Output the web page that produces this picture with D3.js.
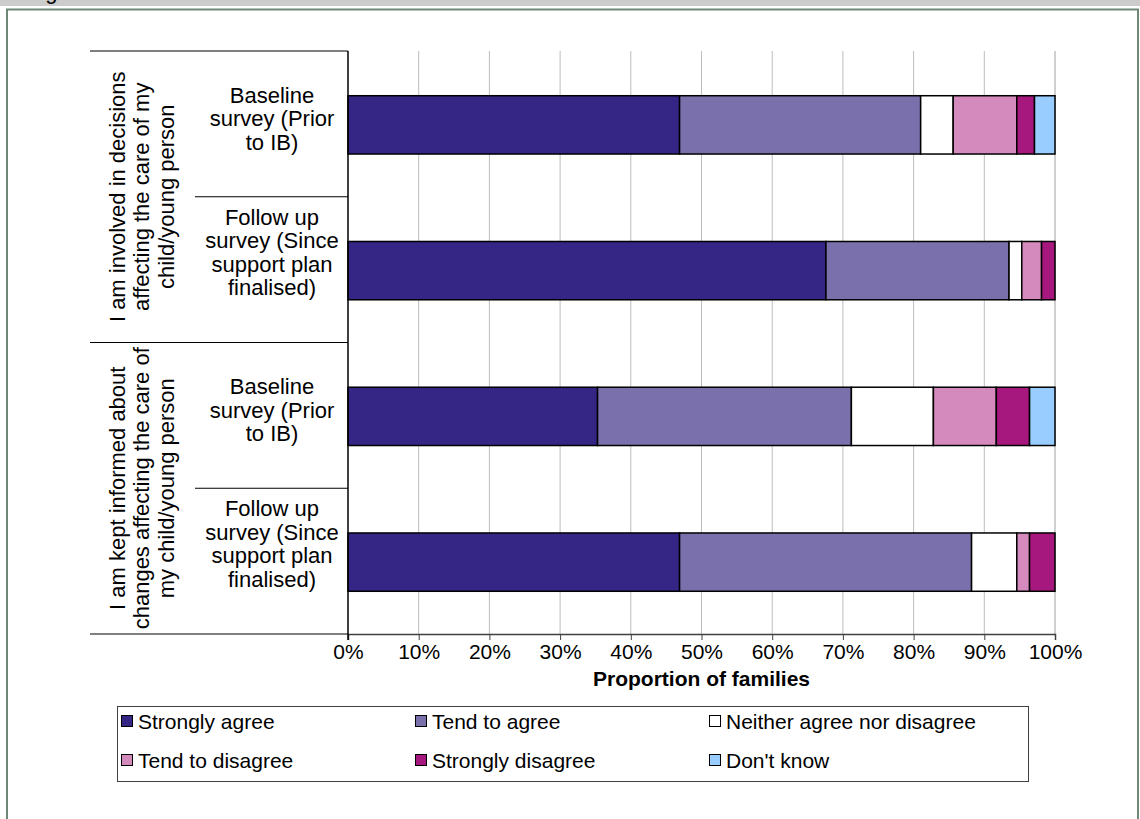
<!DOCTYPE html>
<html>
<head>
<meta charset="utf-8">
<script src="https://cdn.jsdelivr.net/npm/d3@7"></script>
<style>
  html, body { margin: 0; padding: 0; background: #ffffff; }
  svg { display: block; font-family: "Liberation Sans", Arial, sans-serif; }
</style>
</head>
<body>
<svg id="chart" width="1140" height="819"></svg>
<script>
// Response categories (stack order, left to right)
const responses = ["Strongly agree", "Tend to agree", "Neither agree nor disagree",
                   "Tend to disagree", "Strongly disagree", "Don't know"];
const responseColors = ["#352585", "#7a70ab", "#ffffff", "#d48abd", "#a6187e", "#99ccff"];

// Statements (outer category) and survey waves (inner category)
const statementLines = [
  ["I am involved in decisions", "affecting the care of my", "child/young person"],
  ["I am kept informed about", "changes affecting the care of", "my child/young person"]
];
const surveyLines = [
  ["Baseline", "survey (Prior", "to IB)"],
  ["Follow up", "survey (Since", "support plan", "finalised)"]
];

// Percentages per row: [involved baseline, involved follow-up, informed baseline, informed follow-up]
const stronglyAgree    = [46.9, 67.6, 35.3, 46.9];
const tendToAgree      = [34.1, 25.9, 35.9, 41.3];
const neither          = [4.6, 1.8, 11.6, 6.4];
const tendToDisagree   = [9.0, 2.8, 8.9, 1.8];
const stronglyDisagree = [2.5, 1.9, 4.7, 3.6];
const dontKnow         = [2.9, 0.0, 3.6, 0.0];

const xTicks = [0, 10, 20, 30, 40, 50, 60, 70, 80, 90, 100];
const xTitle = "Proportion of families";

const seriesValues = [stronglyAgree, tendToAgree, neither, tendToDisagree, stronglyDisagree, dontKnow];
const rowIds = ["r0", "r1", "r2", "r3"];
const rows = rowIds.map((id, i) => {
  const o = { id };
  responses.forEach((r, k) => { o[r] = seriesValues[k][i]; });
  return o;
});

const FS = 22;
const svg = d3.select("#chart");

// Page strip, caption remnant and frame
svg.append("rect").attr("x", 0).attr("y", 0).attr("width", 1140).attr("height", 6).attr("fill", "#cccccc");
svg.append("rect").attr("x", 7).attr("y", 9.5).attr("width", 1131).attr("height", 830)
  .attr("fill", "#ffffff").attr("stroke", "#6f8777").attr("stroke-width", 2);
svg.append("text").attr("x", 27).attr("y", -1).attr("font-size", FS).attr("fill", "#000").text("Figure");

const plot = { left: 348, right: 1055, top: 51, bottom: 634 };

const x = d3.scaleLinear().domain([0, 100]).range([plot.left, plot.right]);
const y = d3.scaleBand().domain(rowIds).range([plot.top, plot.bottom]).padding(0);
const barH = y.bandwidth() * 0.4;

// Vertical gridlines
svg.append("g").selectAll("line").data(xTicks.filter(t => t > 0)).join("line")
  .attr("x1", d => x(d)).attr("x2", d => x(d))
  .attr("y1", plot.top).attr("y2", plot.bottom)
  .attr("stroke", d => d === 100 ? "#a0a0a0" : "#bdbdbd").attr("stroke-width", 1);

// Stacked bars
const stack = d3.stack().keys(responses);
const layers = stack(rows);
svg.append("g").selectAll("g").data(layers).join("g")
  .attr("fill", (d, i) => responseColors[i])
  .selectAll("rect").data(d => d.filter(s => s[1] - s[0] > 0)).join("rect")
  .attr("x", d => x(d[0]))
  .attr("width", d => x(d[1]) - x(d[0]))
  .attr("y", d => y(d.data.id) + (y.bandwidth() - barH) / 2 + 1)
  .attr("height", barH)
  .attr("stroke", "#000").attr("stroke-width", 1.5);

// X axis
const xAxis = d3.axisBottom(x).tickValues(xTicks).tickFormat(d => d + "%").tickSize(6).tickPadding(4);
const gx = svg.append("g").attr("transform", `translate(0,${plot.bottom})`).call(xAxis);
gx.select(".domain").attr("stroke", "#404040").attr("stroke-width", 1.5);
gx.selectAll(".tick line").attr("stroke", "#404040");
gx.selectAll(".tick text").attr("font-size", FS - 1).attr("fill", "#000")
  .attr("font-family", "Liberation Sans, Arial, sans-serif");

svg.append("text").attr("x", (plot.left + plot.right) / 2).attr("y", 686)
  .attr("text-anchor", "middle").attr("font-size", FS - 1).attr("font-weight", "bold").text(xTitle);

// Category axis line and separators
svg.append("line").attr("x1", plot.left).attr("x2", plot.left)
  .attr("y1", plot.top).attr("y2", plot.bottom + 6).attr("stroke", "#000").attr("stroke-width", 1.5);
const outerBounds = [plot.top, y("r2"), plot.bottom];
svg.append("g").selectAll("line").data(outerBounds).join("line")
  .attr("x1", 90).attr("x2", plot.left).attr("y1", d => d).attr("y2", d => d)
  .attr("stroke", "#000").attr("stroke-width", 1);
const innerBounds = [y("r1"), y("r3")];
svg.append("g").selectAll("line").data(innerBounds).join("line")
  .attr("x1", 195).attr("x2", plot.left).attr("y1", d => d).attr("y2", d => d)
  .attr("stroke", "#000").attr("stroke-width", 1);

// Inner labels (survey wave)
const lineH = 23.5;
rowIds.forEach((id, i) => {
  const lines = surveyLines[i % 2];
  const cy = y(id) + y.bandwidth() / 2 - 5 - (lines.length - 3) * 12;
  const t = svg.append("text").attr("text-anchor", "middle").attr("font-size", FS)
    .attr("x", 272);
  lines.forEach((ln, k) => {
    t.append("tspan").attr("x", 272)
      .attr("y", cy + (k - (lines.length - 1) / 2) * lineH)
      .attr("dominant-baseline", "central").text(ln);
  });
});

// Outer labels (statements), rotated
statementLines.forEach((lines, g) => {
  const cy = y(rowIds[g * 2]) + y.bandwidth();
  lines.forEach((ln, k) => {
    const cx = 117 + k * 24.5;
    svg.append("text").attr("transform", `translate(${cx},${cy}) rotate(-90)`)
      .attr("text-anchor", "middle").attr("dominant-baseline", "central")
      .attr("font-size", FS).text(ln);
  });
});

// Legend
const legend = svg.append("g");
legend.append("rect").attr("x", 117.5).attr("y", 706.5).attr("width", 911).attr("height", 75)
  .attr("fill", "#fff").attr("stroke", "#404040").attr("stroke-width", 1);
const colX = [121, 415, 709];
const rowY = [721, 760];
responses.forEach((r, i) => {
  const lx = colX[i % 3], ly = rowY[Math.floor(i / 3)];
  legend.append("rect").attr("x", lx + 0.5).attr("y", ly - 5.5).attr("width", 11).attr("height", 11)
    .attr("fill", responseColors[i]).attr("stroke", "#000").attr("stroke-width", 1);
  legend.append("text").attr("x", lx + 17).attr("y", ly).attr("dominant-baseline", "central")
    .attr("font-size", FS - 1).text(r);
});
</script>
</body>
</html>
